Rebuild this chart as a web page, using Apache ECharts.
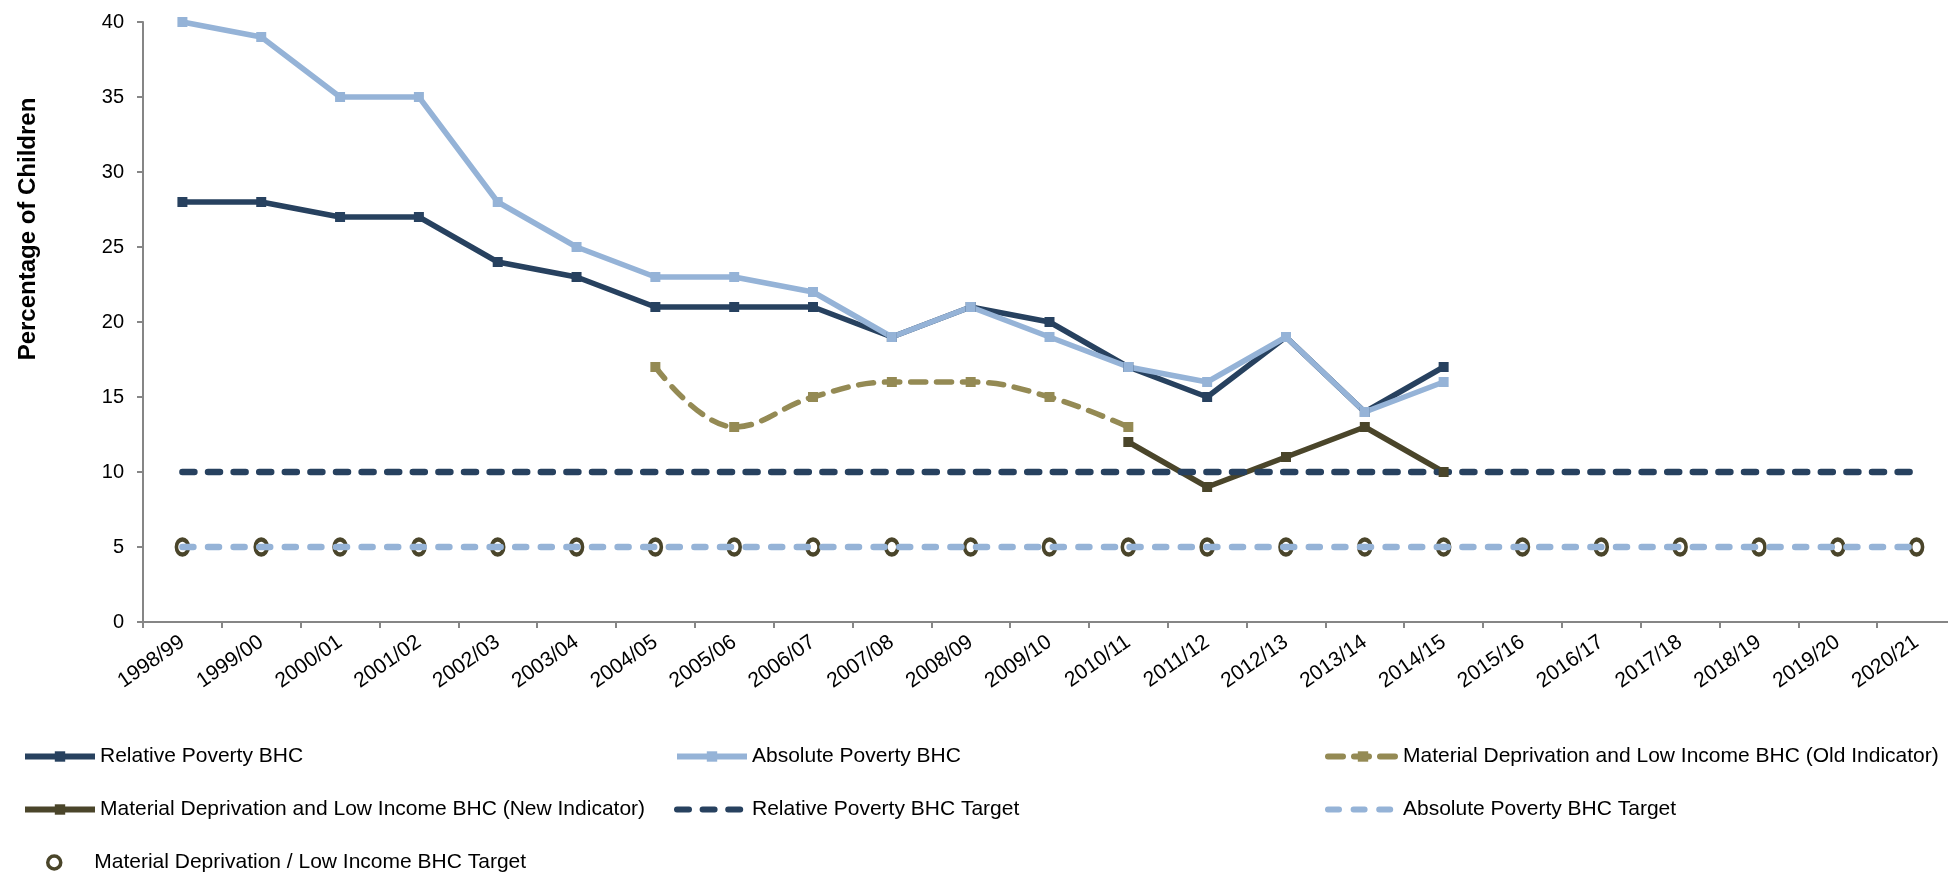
<!DOCTYPE html>
<html>
<head>
<meta charset="utf-8">
<script src="https://cdn.jsdelivr.net/npm/echarts@6/dist/echarts.min.js"></script>
<style>
  html, body { margin: 0; padding: 0; background: #fff; }
  #chart { width: 1948px; height: 872px; }
</style>
</head>
<body>
<div id="chart"></div>
<script>
// categories
const years = ['1998/99', '1999/00', '2000/01', '2001/02', '2002/03', '2003/04', '2004/05', '2005/06',
  '2006/07', '2007/08', '2008/09', '2009/10', '2010/11', '2011/12', '2012/13', '2013/14', '2014/15',
  '2015/16', '2016/17', '2017/18', '2018/19', '2019/20', '2020/21'];

// series values (percent of children)
const relPoverty = [28, 28, 27, 27, 24, 23, 21, 21, 21, 19, 21, 20, 17, 15, 19, 14, 17];
const absPoverty = [40, 39, 35, 35, 28, 25, 23, 23, 22, 19, 21, 19, 17, 16, 19, 14, 16];
const mdOld = [null, null, null, null, null, null, 17, 13, 15, 16, 16, 15, 13];
const mdNew = [null, null, null, null, null, null, null, null, null, null, null, null, 12, 9, 11, 13, 10];
const relTarget = [10, 10, 10, 10, 10, 10, 10, 10, 10, 10, 10, 10, 10, 10, 10, 10, 10, 10, 10, 10, 10, 10, 10];
const absTarget = [5, 5, 5, 5, 5, 5, 5, 5, 5, 5, 5, 5, 5, 5, 5, 5, 5, 5, 5, 5, 5, 5, 5];
const mdTarget = [5, 5, 5, 5, 5, 5, 5, 5, 5, 5, 5, 5, 5, 5, 5, 5, 5, 5, 5, 5, 5, 5, 5];

// y axis ticks
const yMin = 0, yMax = 40, yStep = 5;

const names = [
  'Relative Poverty BHC',
  'Absolute Poverty BHC',
  'Material Deprivation and Low Income BHC (Old Indicator)',
  'Material Deprivation and Low Income BHC (New Indicator)',
  'Relative Poverty BHC Target',
  'Absolute Poverty BHC Target',
  'Material Deprivation / Low Income BHC Target'
];

const font = "'Liberation Sans', Arial, sans-serif";
const navy = '#27415F';
const lightBlue = '#95B3D7';
const khaki = '#948A54';
const olive = '#4A452A';
const axisGrey = '#868686';

// legend slots: [left, top]
const legendPos = [[22, 746], [674, 746], [1325, 746], [22, 799], [674, 799], [1325, 799], [46, 852]];
const legends = names.map(function (n, i) {
  const item = { name: n };
  if (i === 4 || i === 5) item.itemStyle = { opacity: 0 };
  if (i === 6) {
    item.icon = 'circle';
    item.itemStyle = { color: '#fff', borderColor: olive, borderWidth: 3.5 };
  }
  return {
    data: [item],
    left: legendPos[i][0],
    top: legendPos[i][1],
    padding: 0,
    itemWidth: 70,
    itemHeight: 13,
    selectedMode: false,
    lineStyle: { width: 6 },
    textStyle: { fontSize: 21, color: '#000', fontFamily: font }
  };
});

const chart = echarts.init(document.getElementById('chart'));
chart.setOption({
  animation: false,
  backgroundColor: '#fff',
  grid: { left: 143, top: 22, width: 1813, height: 600, outerBoundsMode: 'none', containLabel: false },
  legend: legends,
  graphic: [{
    type: 'text',
    x: 28,
    y: 229,
    rotation: Math.PI / 2,
    style: {
      text: 'Percentage of Children',
      font: 'bold 24px ' + font,
      fill: '#000',
      align: 'center',
      verticalAlign: 'middle'
    }
  }],
  xAxis: {
    type: 'category',
    data: years,
    boundaryGap: true,
    axisLine: { lineStyle: { color: axisGrey, width: 2 } },
    axisTick: { show: true, length: 6, lineStyle: { color: axisGrey, width: 2 } },
    axisLabel: { rotate: 35, interval: 0, margin: 18, fontSize: 21, color: '#000', fontFamily: font },
    splitLine: { show: false }
  },
  yAxis: {
    type: 'value',
    min: yMin,
    max: yMax,
    interval: yStep,
    axisLine: { show: true, lineStyle: { color: axisGrey, width: 2 } },
    axisTick: { show: true, length: 6, lineStyle: { color: axisGrey, width: 2 } },
    axisLabel: { margin: 19, fontSize: 20, color: '#000', fontFamily: font },
    splitLine: { show: false }
  },
  series: [
    {
      name: names[0], type: 'line', data: relPoverty,
      symbol: 'rect', symbolSize: 10,
      lineStyle: { color: navy, width: 5.5 },
      itemStyle: { color: navy }
    },
    {
      name: names[1], type: 'line', data: absPoverty,
      symbol: 'rect', symbolSize: 10,
      lineStyle: { color: lightBlue, width: 5.5 },
      itemStyle: { color: lightBlue }
    },
    {
      name: names[2], type: 'line', data: mdOld, smooth: 0.4,
      symbol: 'rect', symbolSize: 10,
      lineStyle: { color: khaki, width: 5.5, type: [15, 11], cap: 'round' },
      itemStyle: { color: khaki }
    },
    {
      name: names[3], type: 'line', data: mdNew,
      symbol: 'rect', symbolSize: 10,
      lineStyle: { color: olive, width: 5.5 },
      itemStyle: { color: olive }
    },
    {
      name: names[4], type: 'line', data: relTarget,
      symbol: 'none',
      lineStyle: { color: navy, width: 6.5, type: [12, 13.6], cap: 'round' },
      itemStyle: { color: navy }
    },
    {
      name: names[5], type: 'line', data: absTarget,
      symbol: 'none',
      lineStyle: { color: lightBlue, width: 6.5, type: [11, 14.6], cap: 'round' },
      itemStyle: { color: lightBlue }
    },
    {
      name: names[6], type: 'scatter', data: mdTarget,
      symbol: 'circle', symbolSize: [12, 15],
      itemStyle: { color: '#fff', borderColor: olive, borderWidth: 4, opacity: 1 }
    }
  ]
});
</script>
</body>
</html>
